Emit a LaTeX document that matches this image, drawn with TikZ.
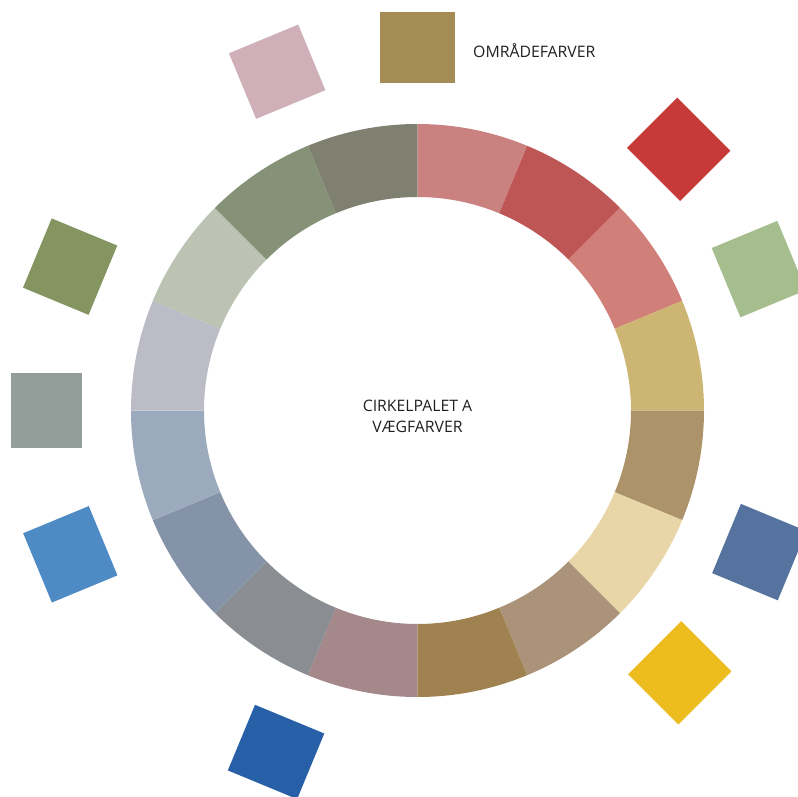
\documentclass[tikz,border=0pt]{standalone}
\usepackage{fontspec}
\setmainfont{Open Sans}

\definecolor{ringA}{HTML}{C98280}
\definecolor{ringB}{HTML}{BF5656}
\definecolor{ringC}{HTML}{D08078}
\definecolor{ringD}{HTML}{CDB673}
\definecolor{ringE}{HTML}{AD9369}
\definecolor{ringF}{HTML}{E8D5A8}
\definecolor{ringG}{HTML}{AA9378}
\definecolor{ringH}{HTML}{A08150}
\definecolor{ringI}{HTML}{A4888A}
\definecolor{ringJ}{HTML}{8A8E93}
\definecolor{ringK}{HTML}{8493A8}
\definecolor{ringL}{HTML}{9BAABD}
\definecolor{ringM}{HTML}{BBBCC6}
\definecolor{ringN}{HTML}{BCC3B2}
\definecolor{ringO}{HTML}{859277}
\definecolor{ringP}{HTML}{808070}
\definecolor{areaochre}{HTML}{A58C55}
\definecolor{areapink}{HTML}{CFB0B8}
\definecolor{areared}{HTML}{C63B38}
\definecolor{areagreen}{HTML}{A6BE8E}
\definecolor{areasteel}{HTML}{55739E}
\definecolor{areayellow}{HTML}{EDBD1F}
\definecolor{areanavy}{HTML}{2760A6}
\definecolor{areablue}{HTML}{4E8AC4}
\definecolor{areagrey}{HTML}{939D9A}
\definecolor{areaolive}{HTML}{849561}
\definecolor{labeltext}{HTML}{231F20}

\begin{document}
\begin{tikzpicture}[
  x = 1pt, y = 1pt,
  swatch/.style = {rectangle, inner sep = 0pt, minimum width = 75pt, minimum height = 71pt},
  caption/.style = {text = labeltext, font = \fontsize{15.8}{21}\selectfont, inner sep = 0pt},
  ]
  \useasboundingbox (-417.5,-385.5) rectangle (380.5,410.5);
  \clip (-417.5,-385.5) rectangle (380.5,410.5);
  \foreach \col [count = \i from 0] in {ringA,ringB,ringC,ringD,ringE,ringF,ringG,ringH,
                                        ringI,ringJ,ringK,ringL,ringM,ringN,ringO,ringP} {
    \pgfmathsetmacro{\a}{90 - 22.5*\i}
    \pgfmathsetmacro{\b}{\a - 22.5}
    \fill[\col] (\a:286.5) arc[start angle = \a, end angle = \b, radius = 286.5]
      -- (\b:213.5) arc[start angle = \b, end angle = \a, radius = 213.5] -- cycle;
  }
  \foreach \ang/\rad/\col/\name in {90/362.5/areaochre/top, 112.5/366.7/areapink/pink,
                                   45/369.4/areared/red, 22.5/369.5/areagreen/green,
                                   -22.5/370/areasteel/steel, -45/371/areayellow/yellow,
                                   -112.5/369.6/areanavy/navy, -157.5/375.8/areablue/blue,
                                   180/371/areagrey/grey, 157.5/376/areaolive/olive} {
    \node[swatch, fill = \col, rotate = \ang - 90] (sw-\name) at (\ang:\rad) {};
  }
  \node[caption, anchor = base west] (areas) at (55.5,353) {OMRÅDEFARVER};
  \node[caption, align = center] (palette) at (0,-6) {CIRKELPALET A\\VÆGFARVER};
\end{tikzpicture}
\end{document}
